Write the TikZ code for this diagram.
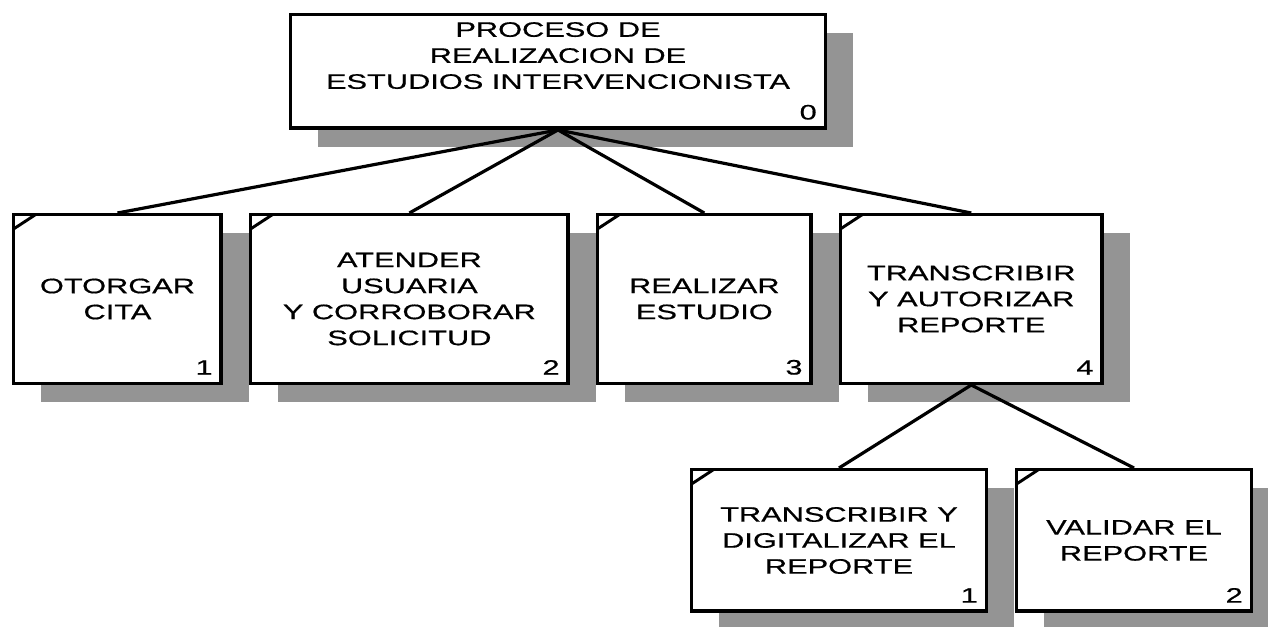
\documentclass[tikz,border=0pt]{standalone}
\usepackage{fontspec}
\setmainfont{Liberation Sans}[FakeStretch=1.47,FakeBold=0.6]
\usepackage{tikz}
\usetikzlibrary{positioning}
\usetikzlibrary{shadows}

\begin{document}
\begin{tikzpicture}[x=0.75pt,y=-0.75pt,
box/.style={draw,line width=2.6pt,fill=white,align=center,inner sep=0pt,font=\fontsize{15.7}{19.5}\selectfont,
 drop shadow={shadow xshift=20.8pt,shadow yshift=-14pt,opacity=1,fill=black!42}},
stage/.style={box,minimum height=126.4pt,path picture={\draw[line width=2.2pt] ([yshift=-10.6pt]path picture bounding box.north west)--([xshift=16.2pt]path picture bounding box.north west);}},
leaf/.style={stage,minimum height=106.1pt},
num/.style={anchor=south east,inner sep=0pt,xshift=-7.5pt,yshift=7.5pt,font=\fontsize{15.7}{19.5}\selectfont},
link/.style={line width=2.4pt}]
\useasboundingbox (0,0) rectangle (1268,626);
\node[box,minimum width=400.9pt,minimum height=85.1pt,anchor=north west,label={[num]south east:0}] (proc) at (289,13) {PROCESO DE\\REALIZACION DE\\ESTUDIOS INTERVENCIONISTA\\[4.5pt]\mbox{}};
\node[stage,minimum width=155.6pt,anchor=north west,label={[num]south east:1}] (cita) at (12,213) {OTORGAR\\CITA};
\node[stage,minimum width=238.1pt,right=19.5pt of cita,label={[num]south east:2}] (atender) {ATENDER\\USUARIA\\Y CORROBORAR\\SOLICITUD};
\node[stage,minimum width=160.1pt,right=19.5pt of atender,label={[num]south east:3}] (estudio) {REALIZAR\\ESTUDIO};
\node[stage,minimum width=196.1pt,right=19.5pt of estudio,label={[num]south east:4}] (reporte) {TRANSCRIBIR\\Y AUTORIZAR\\REPORTE};
\node[leaf,minimum width=220.9pt,anchor=north west,label={[num]south east:1}] (digital) at (690,468) {TRANSCRIBIR Y\\DIGITALIZAR EL\\REPORTE};
\node[leaf,minimum width=175.9pt,right=20.25pt of digital,label={[num]south east:2}] (validar) {VALIDAR EL\\REPORTE};
\draw[link] (proc.south)--(cita.north); \draw[link] (proc.south)--(atender.north); \draw[link] (proc.south)--(estudio.north); \draw[link] (proc.south)--(reporte.north);
\draw[link] (reporte.south)--(digital.north); \draw[link] (reporte.south)--(validar.north);
\end{tikzpicture}
\end{document}
